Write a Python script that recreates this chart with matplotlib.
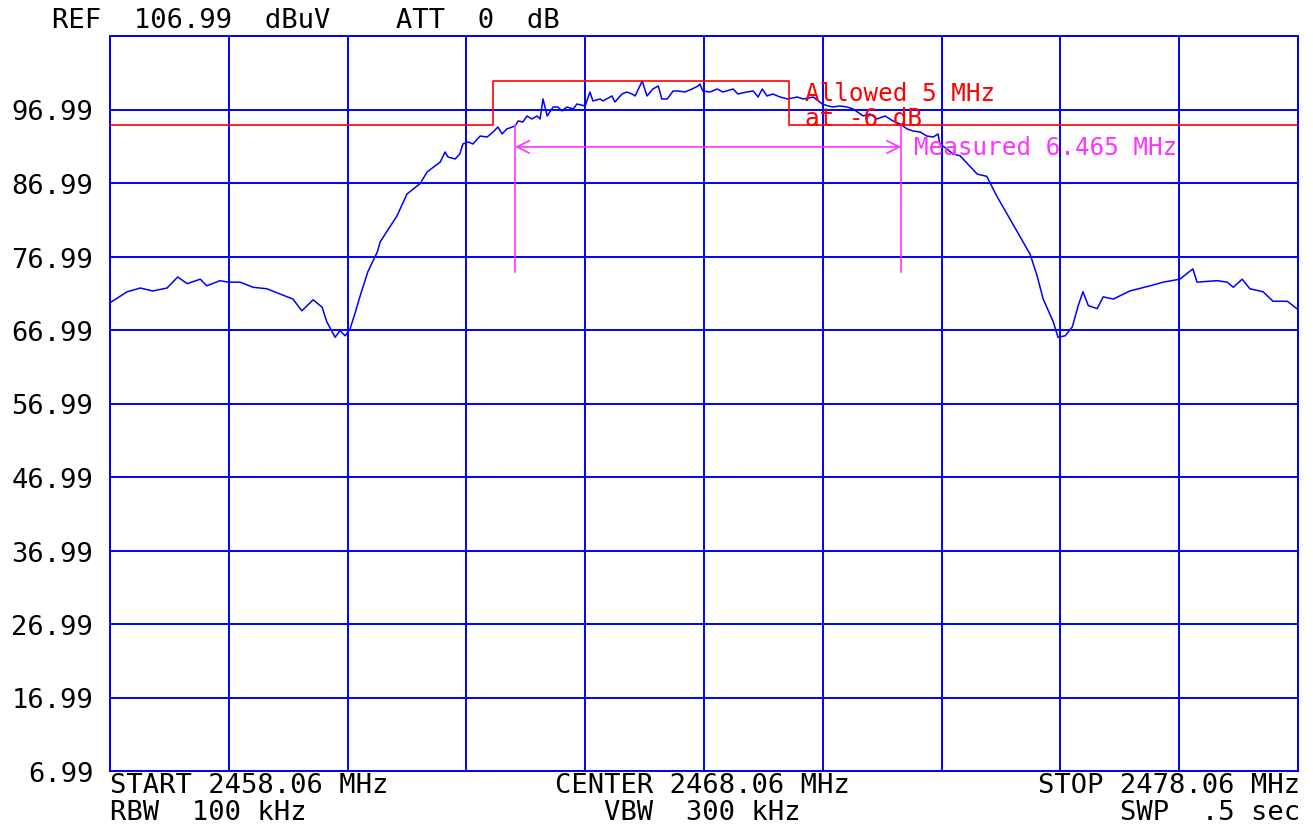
import numpy as np
import matplotlib.pyplot as plt

# sweep settings (MHz / dBuV)
start_mhz = 2458.06
stop_mhz = 2478.06
ref_level = 106.99
db_per_div = 10

# trace
freq = [2458.08, 2458.35, 2458.57, 2458.78, 2459.02, 2459.20, 2459.36, 2459.58,
        2459.69, 2459.91, 2460.05, 2460.25, 2460.47, 2460.70, 2460.92, 2461.14,
        2461.29, 2461.48, 2461.63, 2461.71, 2461.85, 2461.93, 2462.02, 2462.10,
        2462.19, 2462.27, 2462.40, 2462.56, 2462.61, 2462.89, 2463.06, 2463.28,
        2463.40,
        2463.62, 2463.70, 2463.75, 2463.87, 2463.95, 2464.00, 2464.09, 2464.17,
        2464.29, 2464.41, 2464.51, 2464.59, 2464.66, 2464.74, 2464.88, 2464.93,
        2465.01, 2465.08, 2465.16, 2465.25, 2465.30, 2465.35, 2465.42, 2465.52,
        2465.60, 2465.67, 2465.75, 2465.86, 2465.92, 2466.06, 2466.14, 2466.19,
        2466.31, 2466.36, 2466.51, 2466.56, 2466.68, 2466.76, 2466.85, 2466.90,
        2467.02, 2467.10, 2467.20, 2467.29, 2467.35, 2467.44, 2467.54, 2467.62,
        2467.74, 2467.86, 2467.96, 2467.99, 2468.04, 2468.16, 2468.28, 2468.38,
        2468.55, 2468.63, 2468.78, 2468.89, 2468.97, 2469.04, 2469.12, 2469.22,
        2469.34, 2469.47, 2469.63, 2469.73, 2469.90, 2470.05, 2470.15, 2470.23,
        2470.35, 2470.47, 2470.57, 2470.74, 2470.86, 2470.97, 2471.11, 2471.24,
        2471.36, 2471.48, 2471.58, 2471.70, 2471.81, 2471.92, 2472.00, 2472.03,
        2472.15, 2472.25,
        2472.37, 2472.66, 2472.82, 2472.99,
        2473.26, 2473.55, 2473.67, 2473.77, 2473.94, 2474.02, 2474.14, 2474.26,
        2474.36, 2474.44, 2474.53, 2474.68, 2474.78, 2474.95, 2475.23, 2475.57,
        2475.79, 2476.07, 2476.29, 2476.36, 2476.70, 2476.87, 2476.97, 2477.12,
        2477.25, 2477.47, 2477.64, 2477.88, 2478.04]
level = [70.8, 72.2, 72.7, 72.3, 72.7, 74.2, 73.3, 73.9,
         73.0, 73.7, 73.5, 73.5, 72.8, 72.6, 71.9, 71.2,
         69.6, 71.1, 70.1, 68.1, 66.0, 66.9, 66.2, 67.1,
         69.4, 71.6, 74.9, 77.6, 79.0, 82.5, 85.5, 86.9,
         88.5,
         89.85, 91.21, 90.53, 90.26, 90.94, 92.30, 92.57, 92.30,
         93.38, 93.25, 93.93, 94.61, 93.66, 94.34, 94.75, 95.43,
         95.29, 96.11, 95.70, 96.11, 95.70, 98.42, 96.11, 97.33,
         97.33, 96.79, 97.33, 97.06, 97.74, 97.47, 99.37, 98.15,
         98.42, 98.15, 98.83, 98.01, 99.10, 99.37, 99.10, 98.83,
         100.87, 98.83, 99.78, 100.19, 98.42, 98.42, 99.51, 99.51,
         99.37, 99.78, 100.19, 100.46, 99.51, 99.37, 99.78, 99.37,
         99.78, 99.10, 99.37, 99.51, 98.69, 99.78, 98.83, 99.10,
         98.69, 98.42, 98.69, 98.42, 98.69, 97.74, 97.47, 97.33,
         97.47, 97.33, 97.06, 96.11, 96.38, 95.70, 96.11, 95.43,
         95.02, 94.34, 94.06, 93.93, 93.38, 93.25, 93.66, 92.30,
         91.62, 90.94,
         90.7, 88.2, 87.9, 85.2,
         81.4, 77.3, 74.3, 71.2, 68.1, 66.0, 66.2, 67.4,
         70.3, 72.2, 70.3, 69.9, 71.5, 71.2, 72.3, 73.0,
         73.5, 73.9, 75.3, 73.5, 73.7, 73.5, 72.8, 73.9,
         72.6, 72.2, 70.9, 70.9, 69.9]

# -6 dB mask and measured bandwidth markers
mask_lo, mask_hi = 2464.51, 2469.49
mask_top, mask_floor = 100.87, 94.87
meas_lo, meas_hi = 2464.88, 2471.38
meas_top, meas_bottom, arrow_level = 94.9, 74.9, 91.9

ytick_vals = [ref_level - db_per_div * k for k in range(11)]
ytick_text = ["%.2f" % v for v in ytick_vals]
ytick_text[0] = ""

BLUE = "#0000ff"
RED = "#ff0000"
MAG = "#ff33ff"
FONT = "DejaVu Sans Mono"

fig = plt.figure(figsize=(13.13, 8.29), dpi=100)
ax = fig.add_axes([110 / 1313, 57 / 829, 1188 / 1313, 735 / 829])

ax.set_xlim(start_mhz, stop_mhz)
ax.set_ylim(ref_level - 10 * db_per_div, ref_level)
ax.set_xticks(np.linspace(start_mhz, stop_mhz, 11))
ax.set_xticklabels([])
ax.set_yticks(ytick_vals)
ax.set_yticklabels(ytick_text, fontfamily=FONT, fontsize=19.5)
ax.tick_params(length=0, pad=12)
ax.grid(True, color=BLUE, lw=1.4, zorder=0)
ax.set_axisbelow(True)
for s in ax.spines.values():
    s.set_color(BLUE)
    s.set_linewidth(1.4)

ax.plot(freq, level, color=BLUE, lw=1.1, zorder=3)

# limit mask
ax.plot([start_mhz, mask_lo, mask_lo, mask_hi, mask_hi, stop_mhz],
        [mask_floor, mask_floor, mask_top, mask_top, mask_floor, mask_floor],
        color=RED, lw=1.2, zorder=4)
ax.text(2469.76, 99.3, "Allowed 5 MHz", color=RED, fontfamily=FONT,
        fontsize=17.5, va="center", ha="left", zorder=5)
ax.text(2469.76, 95.8, "at -6 dB", color=RED, fontfamily=FONT,
        fontsize=17.5, va="center", ha="left", zorder=5)

# measured bandwidth
for f in (meas_lo, meas_hi):
    ax.plot([f, f], [meas_top, meas_bottom], color=MAG, lw=1.2, zorder=4)
ax.annotate("", xy=(meas_lo, arrow_level), xytext=(meas_hi, arrow_level),
            arrowprops=dict(arrowstyle="<->,head_length=0.9,head_width=0.45",
                            color=MAG, lw=1.2, shrinkA=0, shrinkB=0), zorder=4)
ax.text(2471.59, arrow_level, "Measured 6.465 MHz", color=MAG, fontfamily=FONT,
        fontsize=17.5, va="center", ha="left", zorder=5)

# header and footer annotations
tk = dict(fontfamily=FONT, fontsize=19.5, color="black")
fig.text(52 / 1313, 1 - 21 / 829, "REF  106.99  dBuV    ATT  0  dB",
         va="center", ha="left", **tk)
fig.text(110 / 1313, 1 - 786 / 829, "START 2458.06 MHz", va="center", ha="left", **tk)
fig.text(702 / 1313, 1 - 786 / 829, "CENTER 2468.06 MHz", va="center", ha="center", **tk)
fig.text(1300 / 1313, 1 - 786 / 829, "STOP 2478.06 MHz", va="center", ha="right", **tk)
fig.text(110 / 1313, 1 - 813 / 829, "RBW  100 kHz", va="center", ha="left", **tk)
fig.text(702 / 1313, 1 - 813 / 829, "VBW  300 kHz", va="center", ha="center", **tk)
fig.text(1300 / 1313, 1 - 813 / 829, "SWP  .5 sec", va="center", ha="right", **tk)

fig.savefig("out.png", dpi=100, facecolor="white")
